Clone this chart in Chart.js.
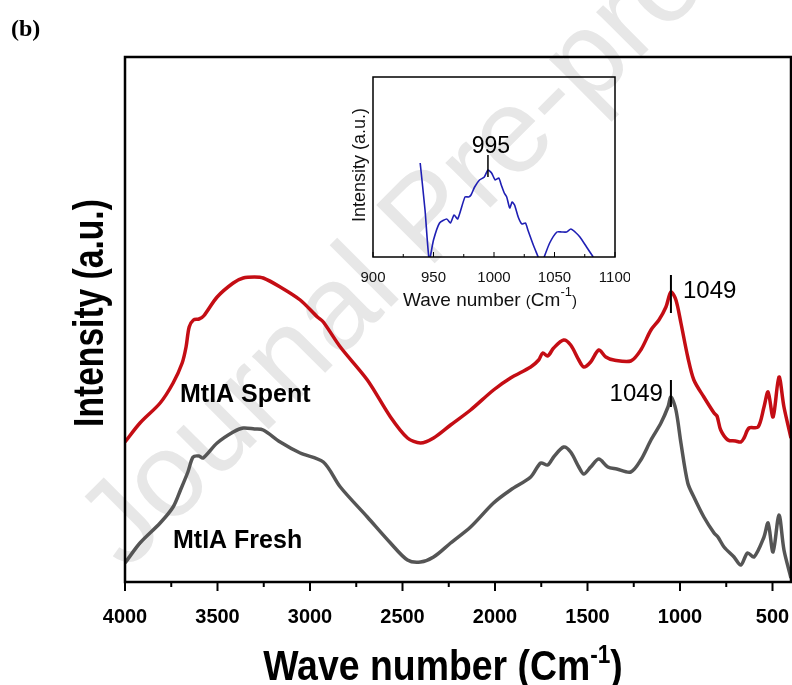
<!DOCTYPE html>
<html>
<head>
<meta charset="utf-8">
<script src="https://cdn.jsdelivr.net/npm/chart.js@4.4.0/dist/chart.umd.min.js"></script>
<style>
  html, body { margin: 0; padding: 0; background: #fff; }
  #wrap { position: relative; width: 792px; height: 685px; overflow: hidden; }
  #mainChart { position: absolute; left: 0; top: 0; }
  #insetChart { position: absolute; left: 300px; top: 50px; }
</style>
</head>
<body>
<div id="wrap">
  <canvas id="mainChart" width="792" height="685"></canvas>
  <canvas id="insetChart" width="330" height="270"></canvas>
</div>
<script>
// FTIR spectra, MtIA spent vs fresh (intensity in arbitrary units)
const mainTicks = [4000, 3500, 3000, 2500, 2000, 1500, 1000, 500];
const mainMinorTicks = [3750, 3250, 2750, 2250, 1750, 1250, 750];

const spentWavenumber = [4000, 3919, 3810, 3740, 3691, 3670, 3653, 3630, 3600, 3575,
  3502, 3415, 3361, 3300, 3253, 3161, 3053, 2960, 2928, 2836,
  2690, 2565, 2473, 2403, 2332, 2240, 2132, 2008, 1916, 1807,
  1764, 1742, 1715, 1683, 1629, 1591, 1547, 1520, 1483, 1439,
  1401, 1358, 1266, 1212, 1157, 1114, 1076, 1049, 1022, 995,
  958, 925, 871, 816, 800, 780, 741, 700, 671, 654,
  627, 578, 546, 524, 497, 465, 438, 400];
const spentIntensity = [140, 159, 179, 199, 219, 235, 255, 262, 263, 266,
  285, 299, 304, 305, 304, 295, 282, 265, 260, 235,
  202, 165, 144, 139, 144, 157, 172, 192, 204, 215,
  222, 229, 226, 234, 242, 237, 222, 215, 220, 232,
  225, 222, 221, 232, 252, 262, 275, 290, 282, 259,
  225, 202, 185, 169, 166, 152, 142, 141, 140, 144,
  154, 155, 175, 190, 165, 205, 175, 144];

const freshWavenumber = [4000, 3919, 3810, 3740, 3700, 3660, 3632, 3600, 3578, 3502,
  3415, 3361, 3300, 3253, 3161, 3053, 2928, 2836, 2690, 2565,
  2473, 2403, 2332, 2240, 2132, 2008, 1916, 1807, 1753, 1715,
  1683, 1629, 1591, 1547, 1520, 1483, 1439, 1390, 1342, 1266,
  1212, 1157, 1103, 1065, 1049, 1022, 995, 958, 925, 871,
  816, 795, 762, 708, 671, 635, 600, 546, 524, 497,
  465, 438, 400];
const freshIntensity = [19, 39, 59, 75, 92, 110, 125, 126, 124, 139,
  150, 154, 153, 152, 140, 129, 120, 95, 65, 39,
  22, 20, 25, 39, 55, 79, 92, 105, 119, 117,
  125, 135, 130, 115, 108, 115, 123, 115, 113, 110,
  122, 142, 159, 175, 185, 172, 139, 99, 85, 65,
  49, 45, 35, 25, 17, 29, 25, 45, 59, 30,
  67, 32, 4];

// inset: zoom on 900-1100 region
const insetTicks = [900, 950, 1000, 1050, 1100];
const insetMinorTicks = [925, 975, 1025, 1075];
const insetWavenumber = [939, 943, 946.5, 950, 955, 961, 964, 967, 970, 976,
  979, 981, 984, 988, 992, 995, 998, 1001, 1004, 1006,
  1008.5, 1010.5, 1013, 1015, 1017, 1020, 1023, 1026, 1028, 1032.5,
  1036.5, 1039, 1041.5, 1046, 1052, 1056, 1060, 1063.5, 1067, 1071,
  1076.5, 1082];
const insetIntensity = [94, 47, -3, 17, 34, 38, 34, 42, 38, 60,
  60, 62, 70, 77, 80, 87, 84, 77, 79, 72,
  64, 60, 49, 55, 52, 40, 33, 34, 27, 12,
  0, -8, 0, 14, 25, 25, 25, 28, 25, 20,
  10, 0];

const peakMain = 1049;
const peakInset = 995;

function toPoints(xs, ys) {
  return xs.map((x, i) => ({ x: x, y: ys[i] }));
}

// text with a superscript part, centred on cx
function drawSup(ctx, cx, y, parts, scaleX) {
  ctx.save();
  ctx.translate(cx, y);
  ctx.scale(scaleX, 1);
  let total = 0;
  parts.forEach(p => { ctx.font = p.font; total += ctx.measureText(p.text).width; });
  let x = -total / 2;
  ctx.textAlign = "left";
  ctx.textBaseline = "alphabetic";
  parts.forEach(p => {
    ctx.font = p.font;
    ctx.fillText(p.text, x, p.dy || 0);
    x += ctx.measureText(p.text).width;
  });
  ctx.restore();
}

// keep the plot area where it is, whatever the end labels need
function noEdgePadding(s) {
  s.paddingLeft = 0;
  s.paddingRight = 0;
}

const mainDecor = {
  id: "mainDecor",
  beforeDraw(chart) {
    const ctx = chart.ctx;
    ctx.save();
    ctx.fillStyle = "#fff";
    ctx.fillRect(0, 0, chart.width, chart.height);
    // watermark
    ctx.translate(126, 572);
    ctx.rotate(-Math.PI / 4);
    ctx.font = "120px 'Liberation Sans', Arial, sans-serif";
    ctx.fillStyle = "#e7e7e7";
    ctx.textBaseline = "alphabetic";
    ctx.fillText("Journal Pre-proof", 0, 0);
    ctx.restore();
  },
  afterDraw(chart) {
    const ctx = chart.ctx;
    const { left, right, top, bottom } = chart.chartArea;
    const xs = chart.scales.x;
    ctx.save();
    ctx.strokeStyle = "#000";
    ctx.lineWidth = 2.5;
    ctx.strokeRect(left, top, right - left, bottom - top);
    ctx.lineWidth = 2;
    mainTicks.forEach(v => {
      const px = xs.getPixelForValue(v);
      ctx.beginPath(); ctx.moveTo(px, bottom); ctx.lineTo(px, bottom + 9); ctx.stroke();
    });
    mainMinorTicks.forEach(v => {
      const px = xs.getPixelForValue(v);
      ctx.beginPath(); ctx.moveTo(px, bottom); ctx.lineTo(px, bottom + 5); ctx.stroke();
    });

    ctx.fillStyle = "#000";
    // panel tag
    ctx.font = "bold 24px 'Liberation Serif', 'Times New Roman', serif";
    ctx.textBaseline = "middle";
    ctx.textAlign = "left";
    ctx.fillText("(b)", 11, 30);

    // x title
    drawSup(ctx, 443, 680, [
      { text: "Wave number (Cm", font: "bold 43px 'Liberation Sans', Arial, sans-serif" },
      { text: "-1", font: "bold 26px 'Liberation Sans', Arial, sans-serif", dy: -17 },
      { text: ")", font: "bold 43px 'Liberation Sans', Arial, sans-serif" }
    ], 0.87);

    // y title
    ctx.save();
    ctx.translate(103, 313);
    ctx.rotate(-Math.PI / 2);
    ctx.scale(0.8, 1);
    ctx.font = "bold 42px 'Liberation Sans', Arial, sans-serif";
    ctx.textAlign = "center";
    ctx.textBaseline = "alphabetic";
    ctx.fillText("Intensity (a.u.)", 0, 0);
    ctx.restore();

    // series labels
    ctx.font = "bold 25px 'Liberation Sans', Arial, sans-serif";
    ctx.textAlign = "left";
    ctx.textBaseline = "middle";
    ctx.fillText("MtIA Spent", 180, 395);
    ctx.fillText("MtIA Fresh", 173, 541);

    // 1049 markers
    const pk = xs.getPixelForValue(peakMain);
    ctx.lineWidth = 2;
    ctx.beginPath(); ctx.moveTo(pk, 275); ctx.lineTo(pk, 313); ctx.stroke();
    ctx.beginPath(); ctx.moveTo(pk, 380); ctx.lineTo(pk, 407); ctx.stroke();
    ctx.font = "24px 'Liberation Sans', Arial, sans-serif";
    ctx.textAlign = "left";
    ctx.fillText(String(peakMain), pk + 12, 291);
    ctx.textAlign = "right";
    ctx.fillText(String(peakMain), pk - 8, 394);
    ctx.restore();
  }
};

new Chart(document.getElementById("mainChart"), {
  type: "line",
  data: {
    datasets: [
      {
        label: "MtIA Spent",
        data: toPoints(spentWavenumber, spentIntensity),
        borderColor: "#c40d14",
        borderWidth: 3.5,
        pointRadius: 0,
        tension: 0.3,
        fill: false
      },
      {
        label: "MtIA Fresh",
        data: toPoints(freshWavenumber, freshIntensity),
        borderColor: "#555555",
        borderWidth: 3.5,
        pointRadius: 0,
        tension: 0.3,
        fill: false
      }
    ]
  },
  options: {
    responsive: false,
    animation: false,
    devicePixelRatio: 1,
    events: [],
    layout: { padding: { left: 125, right: 1, top: 57, bottom: 0 } },
    plugins: { legend: { display: false }, tooltip: { enabled: false } },
    scales: {
      x: {
        type: "linear",
        reverse: true,
        min: 400,
        max: 4000,
        grid: { display: false },
        border: { display: false },
        afterBuildTicks: s => { s.ticks = mainTicks.map(v => ({ value: v })); },
        afterFit: s => { s.height = 103; noEdgePadding(s); },
        ticks: {
          color: "#000",
          padding: 15,
          maxRotation: 0,
          autoSkip: false,
          callback: v => String(v),
          font: { family: "'Liberation Sans', Arial, sans-serif", size: 20, weight: "bold" }
        }
      },
      y: {
        display: false,
        min: 0,
        max: 525
      }
    }
  },
  plugins: [mainDecor]
});

const insetDecor = {
  id: "insetDecor",
  afterDraw(chart) {
    const ctx = chart.ctx;
    const { left, right, top, bottom } = chart.chartArea;
    const xs = chart.scales.x;
    ctx.save();
    ctx.strokeStyle = "#000";
    ctx.lineWidth = 1.5;
    ctx.strokeRect(left, top, right - left, bottom - top);
    ctx.lineWidth = 1;
    insetTicks.forEach(v => {
      const px = xs.getPixelForValue(v);
      ctx.beginPath(); ctx.moveTo(px, bottom); ctx.lineTo(px, bottom - 5); ctx.stroke();
    });
    insetMinorTicks.forEach(v => {
      const px = xs.getPixelForValue(v);
      ctx.beginPath(); ctx.moveTo(px, bottom); ctx.lineTo(px, bottom - 3); ctx.stroke();
    });

    ctx.fillStyle = "#111";
    // y title
    ctx.save();
    ctx.translate(65, 115);
    ctx.rotate(-Math.PI / 2);
    ctx.font = "18px 'Liberation Sans', Arial, sans-serif";
    ctx.textAlign = "center";
    ctx.textBaseline = "alphabetic";
    ctx.fillText("Intensity (a.u.)", 0, 0);
    ctx.restore();

    // x title
    drawSup(ctx, 190, 256, [
      { text: "Wave number ", font: "19px 'Liberation Sans', Arial, sans-serif" },
      { text: "(", font: "15px 'Liberation Sans', Arial, sans-serif" },
      { text: "Cm", font: "19px 'Liberation Sans', Arial, sans-serif" },
      { text: "-1", font: "13px 'Liberation Sans', Arial, sans-serif", dy: -10 },
      { text: ")", font: "15px 'Liberation Sans', Arial, sans-serif" }
    ], 1);

    // 995 marker
    const pk = xs.getPixelForValue(peakInset);
    ctx.strokeStyle = "#000";
    ctx.lineWidth = 1.5;
    ctx.beginPath(); ctx.moveTo(pk, 105); ctx.lineTo(pk, 127); ctx.stroke();
    ctx.font = "23px 'Liberation Sans', Arial, sans-serif";
    ctx.textAlign = "center";
    ctx.textBaseline = "alphabetic";
    ctx.fillStyle = "#000";
    ctx.fillText(String(peakInset), pk + 3, 103);
    ctx.restore();
  }
};

new Chart(document.getElementById("insetChart"), {
  type: "line",
  data: {
    datasets: [{
      label: "inset",
      data: toPoints(insetWavenumber, insetIntensity),
      borderColor: "#1f1fb4",
      borderWidth: 1.6,
      pointRadius: 0,
      tension: 0.2,
      fill: false
    }]
  },
  options: {
    responsive: false,
    animation: false,
    devicePixelRatio: 1,
    events: [],
    layout: { padding: { left: 73, right: 15, top: 27, bottom: 0 } },
    plugins: { legend: { display: false }, tooltip: { enabled: false } },
    scales: {
      x: {
        type: "linear",
        min: 900,
        max: 1100,
        grid: { display: false },
        border: { display: false },
        afterBuildTicks: s => { s.ticks = insetTicks.map(v => ({ value: v })); },
        afterFit: s => { s.height = 63; noEdgePadding(s); },
        ticks: {
          color: "#111",
          padding: 4,
          maxRotation: 0,
          autoSkip: false,
          callback: v => String(v),
          font: { family: "'Liberation Sans', Arial, sans-serif", size: 15 }
        }
      },
      y: { display: false, min: 0, max: 180 }
    }
  },
  plugins: [insetDecor]
});
</script>
</body>
</html>
